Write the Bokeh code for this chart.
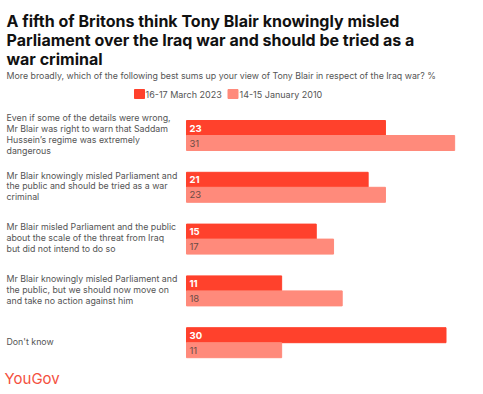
from bokeh.plotting import figure
from bokeh.models import Range1d, ColumnDataSource, Label
from bokeh.core.properties import value
from bokeh.embed import file_html
from bokeh.resources import INLINE

title_lines = ["A fifth of Britons think Tony Blair knowingly misled",
               "Parliament over the Iraq war and should be tried as a",
               "war criminal"]
subtitle = "More broadly, which of the following best sums up your view of Tony Blair in respect of the Iraq war? %"
series_names = ["16-17 March 2023", "14-15 January 2010"]
categories = [
    ["Even if some of the details were wrong,", "Mr Blair was right to warn that Saddam",
     "Hussein\u2019s regime was extremely", "dangerous"],
    ["Mr Blair knowingly misled Parliament and", "the public and should be tried as a war", "criminal"],
    ["Mr Blair misled Parliament and the public", "about the scale of the threat from Iraq",
     "but did not intend to do so"],
    ["Mr Blair knowingly misled Parliament and", "the public, but we should now move on",
     "and take no action against him"],
    ["Don't know"],
]
values_2023 = [23, 21, 15, 11, 30]
values_2010 = [31, 23, 17, 18, 11]

RED = "#ff412c"
PINK = "#ff8a7b"
FONT = "Inter"

W, H = 483, 394
K = 8.65          # px per percentage point
X0 = 186          # canvas px of value 0
p = figure(width=W, height=H, output_backend="svg", toolbar_location=None,
           x_range=Range1d(-X0 / K, (W - X0) / K), y_range=Range1d(H, 0),
           min_border=0, outline_line_color=None)
p.axis.visible = False
p.grid.visible = False
p.background_fill_color = "white"

def px(xpix):
    return (xpix - X0) / K

BAR_H = 15
TOP0 = 120
STEP = 51.8
n = len(categories)
tops = [TOP0 + i * STEP for i in range(n)]
y_red = [t + BAR_H / 2 for t in tops]
y_pink = [t + BAR_H * 1.5 for t in tops]

src_r = ColumnDataSource(dict(y=y_red, v=values_2023, t=[str(v) for v in values_2023]))
src_p = ColumnDataSource(dict(y=y_pink, v=values_2010, t=[str(v) for v in values_2010]))
p.hbar(y="y", left=0, right="v", height=BAR_H, color=RED, source=src_r)
p.hbar(y="y", left=0, right="v", height=BAR_H, color=PINK, source=src_p)
p.text(x=0, y="y", text="t", source=src_r, x_offset=3, text_baseline="middle",
       text_font=value(FONT), text_font_size="9.5px", text_font_style="bold", text_color="white")
p.text(x=0, y="y", text="t", source=src_p, x_offset=3, text_baseline="middle",
       text_font=value(FONT), text_font_size="9.5px", text_color="#6b4a45")

# category labels
LH = 10.7
for i, lines in enumerate(categories):
    c = tops[i] + BAR_H - 1.5
    start = c - LH * (len(lines) - 1) / 2
    for j, ln in enumerate(lines):
        p.add_layout(Label(x=px(6), y=start + j * LH, text=ln, text_baseline="middle",
                           text_font=FONT, text_font_size="8.8px", text_color="#555555"))

# title
for j, ln in enumerate(title_lines):
    p.add_layout(Label(x=px(6), y=20 + j * 19.3, text=ln, text_baseline="alphabetic",
                       text_font=FONT, text_font_size="16px", text_font_style="bold",
                       text_color="#111111"))
p.add_layout(Label(x=px(6), y=75, text=subtitle, text_baseline="middle",
                   text_font=FONT, text_font_size="8.8px", text_color="#555555"))

# legend
leg_y = 93.5
p.rect(x=[px(139), px(232.5)], y=[leg_y, leg_y], width=10 / K, height=9,
       color=[RED, PINK])
p.add_layout(Label(x=px(145), y=leg_y, text=series_names[0], text_baseline="middle",
                   text_font=FONT, text_font_size="9px", text_color="#555555"))
p.add_layout(Label(x=px(239), y=leg_y, text=series_names[1], text_baseline="middle",
                   text_font=FONT, text_font_size="9px", text_color="#555555"))

# logo
p.add_layout(Label(x=px(4), y=378, text="YouGov", text_baseline="middle",
                   text_font=FONT, text_font_size="15px", text_color="#f4503e"))

open("out.html", "w").write(file_html(p, INLINE))
